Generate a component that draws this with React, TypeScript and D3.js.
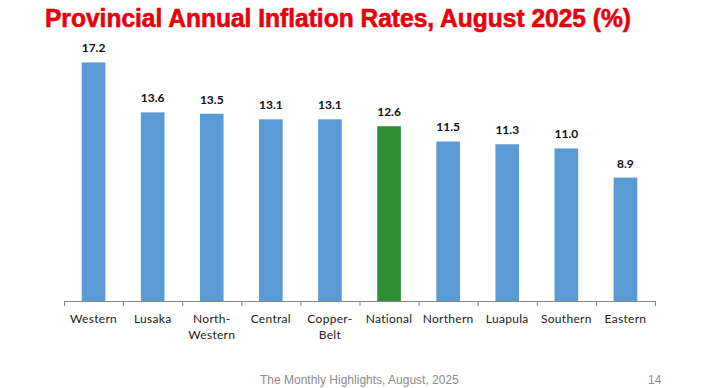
import React, { useEffect, useRef } from 'react';
import * as d3 from 'd3';

const provinces = ['Western', 'Lusaka', 'North-|Western', 'Central', 'Copper-|Belt', 'National', 'Northern', 'Luapula', 'Southern', 'Eastern'];
const rates = [17.2, 13.6, 13.5, 13.1, 13.1, 12.6, 11.5, 11.3, 11.0, 8.9];
const highlight = 'National';

export default function App() {
  const ref = useRef<SVGSVGElement>(null);

  useEffect(() => {
    const svg = d3.select(ref.current);
    svg.selectAll('*').remove();

    const width = 720, height = 388;
    const left = 64, right = 655, base = 301;

    svg.append('rect').attr('width', width).attr('height', height).attr('fill', '#fff');

    // title
    svg.append('text')
      .attr('x', 45).attr('y', 27)
      .attr('font-family', '"Liberation Sans Narrow", "Liberation Sans", Arial, sans-serif')
      .attr('font-weight', 'bold').attr('font-size', 25)
      .attr('textLength', 586).attr('lengthAdjust', 'spacingAndGlyphs')
      .attr('fill', '#e8000b').attr('stroke', '#e8000b').attr('stroke-width', 0.6)
      .text('Provincial Annual Inflation Rates, August 2025 (%)');

    const x = d3.scaleBand().domain(provinces).range([left, right]).paddingInner(0.6).paddingOuter(0.3);
    const bounds = d3.scaleBand().domain(provinces).range([left, right]);
    const y = d3.scaleLinear().domain([0, 20]).range([base, 23.6]);

    const g = svg.append('g');

    g.selectAll('.bar')
      .data(rates)
      .enter().append('rect')
      .attr('x', (d, i) => x(provinces[i]) as number)
      .attr('width', x.bandwidth())
      .attr('y', d => y(d))
      .attr('height', d => base - y(d))
      .attr('fill', (d, i) => provinces[i] === highlight ? '#2f8d33' : '#5b9bd5');

    g.selectAll('.val')
      .data(rates)
      .enter().append('text')
      .attr('x', (d, i) => (x(provinces[i]) as number) + x.bandwidth() / 2)
      .attr('y', d => y(d) - 10)
      .attr('text-anchor', 'middle')
      .attr('font-family', 'Lato, "Open Sans", sans-serif')
      .attr('font-weight', 'bold').attr('font-size', 12)
      .attr('fill', '#111')
      .text(d => d.toFixed(1));

    // axis line and ticks
    g.append('line')
      .attr('x1', left).attr('x2', right).attr('y1', base + 0.5).attr('y2', base + 0.5)
      .attr('stroke', '#868686');
    const tickXs = provinces.map(p => bounds(p) as number).concat([right]);
    g.selectAll('.tick')
      .data(tickXs)
      .enter().append('line')
      .attr('x1', d => d + 0.5).attr('x2', d => d + 0.5)
      .attr('y1', base).attr('y2', base + 5)
      .attr('stroke', '#868686');

    const labels = g.selectAll('.cat')
      .data(provinces)
      .enter().append('text')
      .attr('x', d => (bounds(d) as number) + bounds.bandwidth() / 2)
      .attr('y', 323)
      .attr('text-anchor', 'middle')
      .attr('font-family', 'Lato, "Open Sans", sans-serif')
      .attr('font-size', 12)
      .attr('letter-spacing', 0.3)
      .attr('fill', '#222');
    labels.each(function (d) {
      const t = d3.select(this);
      d.split('|').forEach((line, i) => {
        t.append('tspan')
          .attr('x', (bounds(d) as number) + bounds.bandwidth() / 2)
          .attr('dy', i === 0 ? 0 : 16)
          .text(line);
      });
    });

    // footer
    svg.append('text')
      .attr('x', 260).attr('y', 384)
      .attr('font-family', '"Liberation Sans", Arial, sans-serif')
      .attr('font-size', 12).attr('fill', '#8c8c8c')
      .text('The Monthly Highlights, August, 2025');
    svg.append('text')
      .attr('x', 648).attr('y', 384)
      .attr('font-family', '"Liberation Sans", Arial, sans-serif')
      .attr('font-size', 12).attr('fill', '#8c8c8c')
      .text('14');
  }, []);

  return (
    <svg ref={ref} width={720} height={388}
      style={{ position: 'absolute', left: 0, top: 0, display: 'block' }} />
  );
}
